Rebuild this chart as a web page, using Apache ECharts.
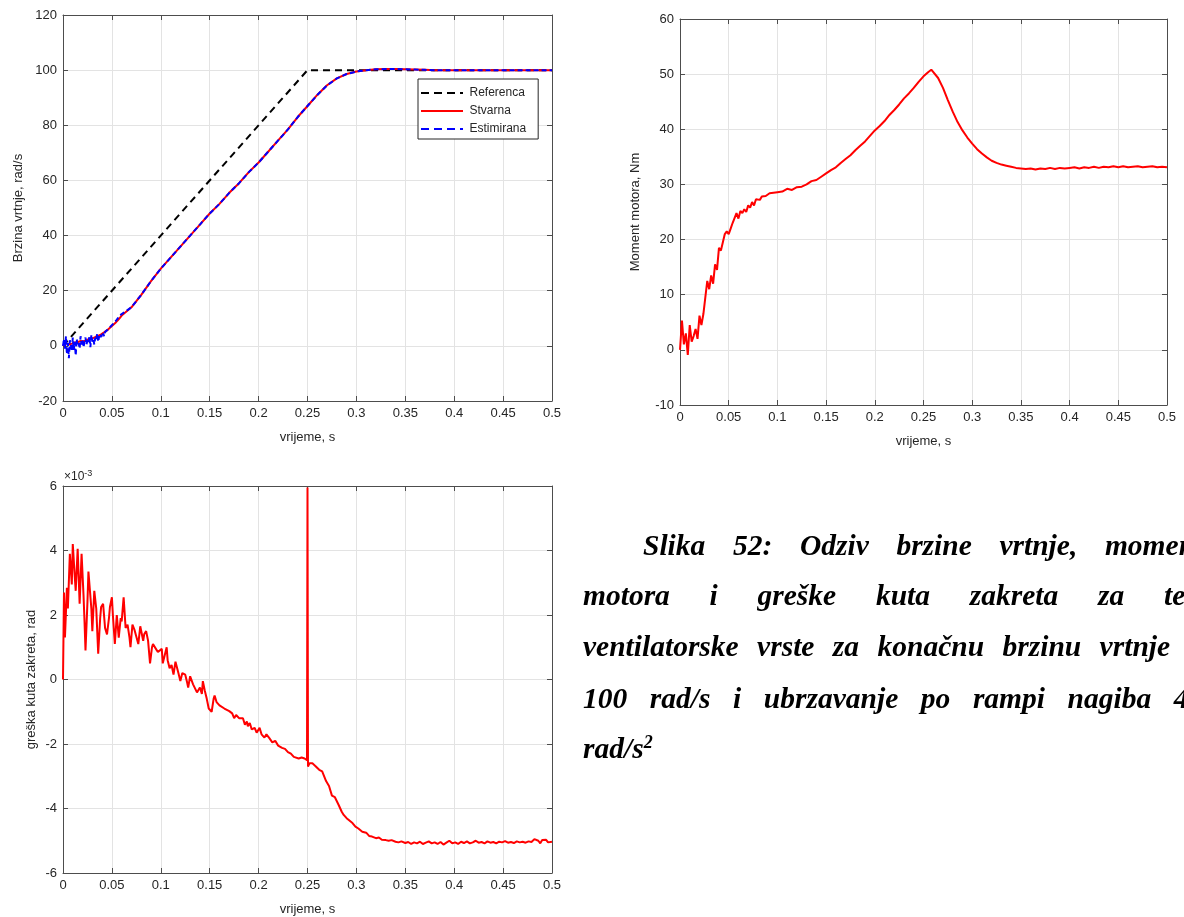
<!DOCTYPE html>
<html>
<head>
<meta charset="utf-8">
<script src="https://cdn.jsdelivr.net/npm/echarts@6.0.0/dist/echarts.min.js"></script>
<style>
    html, body {margin: 0; padding: 0; background: #fff;}
    #main {width: 1184px; height: 917px;}
</style>
</head>
<body>
<div id="main"></div>
<script>
// brzina vrtnje (rad/s)
var speedT = [0, 0.001, 0.002, 0.003, 0.004, 0.005, 0.006, 0.007, 0.008, 0.009, 0.010, 0.011, 0.012, 0.013, 0.014,
    0.015, 0.016, 0.017, 0.018, 0.019, 0.020, 0.021, 0.022, 0.023, 0.024, 0.025, 0.026, 0.027, 0.028, 0.029,
    0.030, 0.031, 0.032, 0.033, 0.034, 0.035, 0.036, 0.037, 0.038, 0.039, 0.040, 0.041, 0.042, 0.043, 0.044,
    0.046, 0.048, 0.050, 0.052, 0.054, 0.056, 0.058, 0.060,
    0.07, 0.08, 0.09, 0.10, 0.11, 0.12, 0.13, 0.14, 0.15, 0.16, 0.17, 0.18, 0.19, 0.20, 0.21, 0.22, 0.23, 0.24,
    0.25, 0.26, 0.27, 0.28, 0.29, 0.30, 0.31, 0.32, 0.33, 0.34, 0.35, 0.36, 0.37, 0.38, 0.40, 0.45, 0.50];
var speedReal = [0, 0.5, 0.5, 1, 0.5, 1, 0.5, 1, 1, 0.8, 1.2, 1, 1.2, 1, 1.5,
    1.3, 1.5, 1.4, 1.8, 1.6, 1.8, 1.7, 2, 2.2, 2, 2.3, 2.2, 2.6, 2.4, 2.8,
    2.7, 3, 3, 3.2, 3.3, 3.6, 3.6, 3.9, 4, 4.2, 4.4, 4.6, 4.9, 5.1, 5.4,
    5.9, 6.5, 7.2, 7.8, 8.5, 9.3, 10.1, 11,
    14, 18.5, 23.5, 28, 32, 36, 40, 44, 48, 51.5, 55.5, 59, 63, 66.5, 70.5, 74.5, 78.5, 83,
    87, 91, 94.5, 97, 98.6, 99.5, 100, 100.3, 100.4, 100.4, 100.3, 100.2, 100.1, 100, 100, 100, 100];
var speedEst = [0, 2.5, -1, 3.5, -3, 1, -4.5, 2, 0.5, -2, 3, -1.5, 1.5, -3.5, 2.5,
    0, 1, -1, 3.5, 0.5, 2, -0.5, 1.5, 3, 0.5, 2, 1, 3.5, -0.5, 4,
    1.5, 2.5, 0.5, 3, 2, 4.5, 1.5, 3.5, 2.5, 4, 3, 4.5, 3.5, 5, 4.5,
    6, 6.5, 7.5, 8, 9, 9.5, 11, 10.5,
    14, 18.5, 23.5, 28, 32, 36, 40, 44, 48, 51.5, 55.5, 59, 63, 66.5, 70.5, 74.5, 78.5, 83,
    87, 91, 94.5, 97, 98.6, 99.5, 100, 100.3, 100.4, 100.4, 100.3, 100.2, 100.1, 100, 100, 100, 100];
var refT = [0, 0.25, 0.5];
var refV = [0, 100, 100];

// moment motora (Nm)
var torqueT = [0, 0.002, 0.004, 0.006, 0.008, 0.010, 0.012, 0.014, 0.016, 0.018, 0.020, 0.022, 0.024, 0.026, 0.028, 0.030,
    0.032, 0.034, 0.036, 0.038, 0.040, 0.042, 0.044, 0.046, 0.048, 0.050, 0.052, 0.054, 0.056, 0.058, 0.060,
    0.062, 0.064, 0.066, 0.068, 0.070, 0.072, 0.074, 0.076, 0.078, 0.080, 0.082, 0.084, 0.086, 0.088, 0.090,
    0.092, 0.094, 0.096, 0.098, 0.100, 0.105, 0.110, 0.115, 0.120, 0.125, 0.130, 0.135, 0.140, 0.145, 0.150,
    0.155, 0.160, 0.165, 0.170, 0.175, 0.180, 0.185, 0.190, 0.195, 0.200, 0.205, 0.210, 0.215, 0.220, 0.225,
    0.230, 0.235, 0.240, 0.245, 0.250, 0.255, 0.258, 0.260, 0.265, 0.270, 0.275, 0.280, 0.285, 0.290, 0.295,
    0.300, 0.305, 0.310, 0.315, 0.320, 0.325, 0.330, 0.335, 0.340, 0.345, 0.350, 0.355, 0.360, 0.365, 0.370,
    0.375, 0.380, 0.385, 0.390, 0.395, 0.400, 0.405, 0.410, 0.415, 0.420, 0.425, 0.430, 0.435, 0.440, 0.445,
    0.450, 0.455, 0.460, 0.465, 0.470, 0.475, 0.480, 0.485, 0.490, 0.495, 0.500];
var torqueV = [0, 5.3, 1, 3, -0.9, 4.5, 1.5, 2.5, 3.8, 2, 6.2, 4.5, 6.5, 9.5, 12.5, 11,
    13.5, 12, 15.5, 14.5, 18.5, 18, 19.5, 21, 21.5, 21, 22, 23, 22.8, 24.8, 23.8,
    25.2, 24.8, 25.5, 25, 26.2, 25.8, 26.8, 26.2, 27.3, 27.5, 27.2, 27.8, 27.5, 27.9, 27.6,
    28.4, 28.1, 28.5, 28.2, 28.6, 28.7, 29.2, 29.0, 29.5, 29.6, 30.0, 30.6, 30.8, 31.4, 32.0,
    32.6, 33.1, 33.9, 34.6, 35.3, 36.2, 37.0, 37.8, 38.8, 39.8, 40.6, 41.5, 42.6, 43.5, 44.5,
    45.6, 46.5, 47.5, 48.6, 49.6, 50.4, 50.8, 50.5, 49.3, 47.5, 45.3, 43.2, 41.3, 39.8, 38.5,
    37.4, 36.4, 35.6, 34.9, 34.3, 33.9, 33.6, 33.4, 33.2, 33.0, 32.9, 32.8, 32.9, 32.7, 32.9,
    32.8, 33.0, 32.8, 33.0, 32.9, 33.0, 33.1, 32.9, 33.1, 33.0, 33.2, 33.0, 33.2, 33.1, 33.3,
    33.1, 33.3, 33.1, 33.2, 33.3, 33.1, 33.2, 33.3, 33.1, 33.2, 33.1];

// greska kuta zakreta (x10^-3 rad)
var errT = [0, 0.001, 0.002, 0.004, 0.005, 0.007, 0.009, 0.010, 0.012, 0.013, 0.015, 0.017, 0.019, 0.021, 0.022, 0.023,
    0.025, 0.026, 0.027, 0.029, 0.030, 0.032, 0.034, 0.036, 0.038, 0.039, 0.041, 0.043, 0.045, 0.047, 0.048,
    0.050, 0.051, 0.053, 0.055, 0.057, 0.059, 0.060, 0.062, 0.064, 0.066, 0.068, 0.069, 0.071, 0.073, 0.075,
    0.077, 0.079, 0.080, 0.082, 0.083, 0.085, 0.087, 0.089, 0.091, 0.092, 0.094, 0.095, 0.097, 0.099, 0.101,
    0.102, 0.104, 0.106, 0.107, 0.109, 0.111, 0.113, 0.115, 0.116, 0.118, 0.120, 0.122, 0.125, 0.127, 0.128,
    0.130, 0.131, 0.133, 0.135, 0.137, 0.140, 0.142, 0.143, 0.145, 0.147, 0.149, 0.152, 0.154, 0.155, 0.157,
    0.160, 0.162, 0.165, 0.167, 0.170, 0.173, 0.175, 0.177, 0.180, 0.182, 0.184, 0.186, 0.188, 0.189, 0.191,
    0.193, 0.196, 0.198, 0.201, 0.203, 0.206, 0.208, 0.211, 0.214, 0.217, 0.220, 0.224, 0.227, 0.230, 0.233,
    0.236, 0.238, 0.241, 0.244, 0.247, 0.2495, 0.250, 0.2505, 0.252, 0.255, 0.258, 0.262, 0.265, 0.269, 0.272,
    0.275, 0.278, 0.282, 0.285, 0.287, 0.290, 0.292, 0.296, 0.299, 0.302, 0.306, 0.310, 0.313, 0.316, 0.320,
    0.323, 0.326, 0.330, 0.333, 0.336, 0.340, 0.343, 0.346, 0.350, 0.353, 0.356, 0.359, 0.362, 0.365, 0.368,
    0.371, 0.374, 0.377, 0.380, 0.383, 0.386, 0.389, 0.392, 0.395, 0.398, 0.401, 0.404, 0.407, 0.410, 0.413,
    0.416, 0.419, 0.422, 0.425, 0.428, 0.431, 0.434, 0.437, 0.440, 0.443, 0.446, 0.449, 0.452, 0.455, 0.458,
    0.461, 0.464, 0.467, 0.470, 0.473, 0.476, 0.479, 0.482, 0.484, 0.486, 0.488, 0.490, 0.492, 0.494, 0.496,
    0.498, 0.500];
var errV = [0, 2.7, 1.3, 2.84, 2.2, 3.9, 2.95, 4.2, 3.2, 2.75, 4.05, 2.35, 3.9, 2.6, 1.8, 0.9,
    2.4, 3.35, 3.4, 2.2, 1.5, 2.75, 2.2, 0.8, 1.9, 2.25, 2.35, 1.6, 1.4, 1.9, 2.25,
    2.55, 2.0, 1.1, 2.0, 1.3, 1.9, 1.8, 2.55, 1.6, 1.7, 1.3, 1.0, 1.7, 1.55, 1.5,
    1.1, 1.65, 1.6, 1.2, 1.4, 1.5, 1.2, 0.5, 1.0, 1.1, 1.05, 0.95, 0.85, 0.8, 0.95,
    0.5, 0.75, 1.0, 0.6, 0.35, 0.45, 0.15, 0.55, 0.5, 0.2, -0.05, 0.2, 0.15, -0.1, -0.25,
    0.1, 0.05, -0.15, -0.15, -0.4, -0.25, -0.45, -0.05, -0.35, -0.6, -0.9, -1.0, -0.6, -0.5, -0.7,
    -0.8, -0.75, -0.9, -0.85, -0.98, -1.05, -1.2, -1.1, -1.2, -1.25, -1.2, -1.4, -1.3, -1.45, -1.35,
    -1.55, -1.5, -1.65, -1.5, -1.7, -1.8, -1.7, -1.82, -1.95, -1.9, -2.05, -2.12, -2.15, -2.25, -2.3,
    -2.4, -2.38, -2.45, -2.42, -2.45, -2.5, 5.95, -2.7, -2.6, -2.6, -2.68, -2.8, -2.85, -3.15, -3.3,
    -3.6, -3.65, -3.9, -4.1, -4.2, -4.3, -4.35, -4.45, -4.56, -4.62, -4.72, -4.75, -4.85, -4.87, -4.92,
    -4.9, -4.97, -4.98, -5.0, -4.98, -5.03, -5.05, -5.02, -5.07, -5.04, -5.1, -5.05, -5.08, -5.03, -5.1,
    -5.06, -5.02, -5.08, -5.05, -5.1, -5.04, -5.12, -5.06, -5.0, -5.08, -5.05, -5.1, -5.03, -5.07, -5.02,
    -5.08, -5.05, -5.0, -5.06, -5.04, -5.08, -5.02, -5.06, -5.04, -5.08, -5.03, -5.05, -5.01, -5.06, -5.04,
    -5.07, -5.02, -5.05, -5.03, -5.06, -5.02, -5.04, -4.95, -4.92, -5.0, -5.08, -4.98, -5.04, -4.97, -5.05,
    -4.99, -5.03];

// tekst opisa slike, po recima
var captionLines = [
    'Slika 52: Odziv brzine vrtnje, momenta',
    'motora i greške kuta zakreta za teret',
    'ventilatorske vrste za konačnu brzinu vrtnje od',
    '100 rad/s i ubrzavanje po rampi nagiba 400'
];

function pairs(t, v) {
    var out = [];
    for (var i = 0; i < t.length; i = i + 1) {
        out.push([t[i], v[i]]);
    }
    return out;
}

var axisColor = '#4d4d4d';
var textColor = '#262626';
var fontName = '"Liberation Sans", Arial, sans-serif';

// donja i gornja x os jednog grafa
function xAxes(grid, name) {
    return [{
        type: 'value', gridIndex: grid, position: 'bottom',
        min: 0, max: 0.5, interval: 0.05,
        name: name, nameLocation: 'middle', nameGap: 30,
        nameTextStyle: {color: textColor, fontSize: 13, fontFamily: fontName},
        axisLine: {show: true, onZero: false, lineStyle: {color: axisColor, width: 1}},
        axisTick: {show: true, inside: true, length: 5, lineStyle: {color: axisColor}},
        axisLabel: {color: textColor, fontSize: 13, fontFamily: fontName, margin: 6,
            formatter: function (v) { return String(+v.toFixed(2)); }},
        splitLine: {show: true, lineStyle: {color: '#e3e3e3', width: 1}}
    }, {
        type: 'value', gridIndex: grid, position: 'top',
        min: 0, max: 0.5, interval: 0.05,
        axisLine: {show: true, onZero: false, lineStyle: {color: axisColor, width: 1}},
        axisTick: {show: true, inside: true, length: 5, lineStyle: {color: axisColor}},
        axisLabel: {show: false},
        splitLine: {show: false}
    }];
}

// lijeva i desna y os jednog grafa
function yAxes(grid, name, min, max, interval, gap) {
    return [{
        type: 'value', gridIndex: grid, position: 'left',
        min: min, max: max, interval: interval,
        name: name, nameLocation: 'middle', nameGap: gap,
        nameTextStyle: {color: textColor, fontSize: 13, fontFamily: fontName},
        axisLine: {show: true, onZero: false, lineStyle: {color: axisColor, width: 1}},
        axisTick: {show: true, inside: true, length: 5, lineStyle: {color: axisColor}},
        axisLabel: {color: textColor, fontSize: 13, fontFamily: fontName, margin: 6},
        splitLine: {show: true, lineStyle: {color: '#e3e3e3', width: 1}}
    }, {
        type: 'value', gridIndex: grid, position: 'right',
        min: min, max: max, interval: interval,
        axisLine: {show: true, onZero: false, lineStyle: {color: axisColor, width: 1}},
        axisTick: {show: true, inside: true, length: 5, lineStyle: {color: axisColor}},
        axisLabel: {show: false},
        splitLine: {show: false}
    }];
}

// poravnanje teksta na obje strane (desni rub je izvan slike)
var captionFont = 'italic bold 29.5px "Liberation Serif", "Times New Roman", serif';
var measureCtx = document.createElement('canvas').getContext('2d');
measureCtx.font = captionFont;
function justifiedLine(text, x0, x1, y) {
    var words = text.split(' ');
    var widths = words.map(function (w) { return measureCtx.measureText(w).width; });
    var total = widths.reduce(function (a, b) { return a + b; }, 0);
    var gap = (x1 - x0 - total) / (words.length - 1);
    var out = [];
    var x = x0;
    for (var i = 0; i < words.length; i = i + 1) {
        out.push({type: 'text', x: x, y: y, silent: true,
            style: {text: words[i], font: captionFont, fill: '#000', verticalAlign: 'middle'}});
        x += widths[i] + gap;
    }
    return out;
}

// ikone legende: isprekidana i puna linija
var dashIcon = 'path://M0,0h8v2h-8z M13,0h8v2h-8z M26,0h8v2h-8z M39,0h3v2h-3z';
var solidIcon = 'path://M0,0h42v2h-42z';

var captionGraphic = [].concat(
    justifiedLine(captionLines[0], 643, 1218, 547),
    justifiedLine(captionLines[1], 583, 1218, 597),
    justifiedLine(captionLines[2], 583, 1218, 648),
    justifiedLine(captionLines[3], 583, 1218, 700),
    [{
        type: 'text', x: 583, y: 750, silent: true,
        style: {
            text: 'rad/s{s|2}', font: captionFont, fill: '#000', verticalAlign: 'middle',
            rich: {s: {font: 'italic bold 18px "Liberation Serif", serif', verticalAlign: 'top', padding: [0, 0, 14, 0]}}
        }
    }]
);

var chart = echarts.init(document.getElementById('main'), null, {renderer: 'canvas'});
chart.setOption(option = {
    animation: false,
    backgroundColor: '#fff',
    grid: [
        {left: 63, top: 15, width: 489, height: 386},
        {left: 680, top: 19, width: 487, height: 386},
        {left: 63, top: 486, width: 489, height: 387}
    ],
    xAxis: [].concat(xAxes(0, 'vrijeme, s'), xAxes(1, 'vrijeme, s'), xAxes(2, 'vrijeme, s')),
    yAxis: [].concat(
        yAxes(0, 'Brzina vrtnje, rad/s', -20, 120, 20, 38),
        yAxes(1, 'Moment motora, Nm', -10, 60, 10, 38),
        yAxes(2, 'greška kuta zakreta, rad', -6, 6, 2, 25)
    ),
    legend: {
        left: 418, top: 79,
        orient: 'vertical',
        padding: [8, 12, 4, 3],
        itemGap: 6,
        itemWidth: 45, itemHeight: 2,
        backgroundColor: '#fff',
        borderColor: '#262626', borderWidth: 1, borderRadius: 0,
        textStyle: {color: textColor, fontSize: 12, fontFamily: fontName},
        data: [
            {name: 'Referenca', icon: dashIcon, itemStyle: {color: '#000'}},
            {name: 'Stvarna', icon: solidIcon, itemStyle: {color: '#ff0000'}},
            {name: 'Estimirana', icon: dashIcon, itemStyle: {color: '#0000ff'}}
        ]
    },
    series: [
        {
            name: 'Referenca', type: 'line', xAxisIndex: 0, yAxisIndex: 0,
            symbol: 'none', data: pairs(refT, refV),
            lineStyle: {color: '#000', width: 2, type: [7, 5]},
            itemStyle: {color: '#000'}
        },
        {
            name: 'Stvarna', type: 'line', xAxisIndex: 0, yAxisIndex: 0,
            symbol: 'none', data: pairs(speedT, speedReal),
            lineStyle: {color: '#ff0000', width: 2},
            itemStyle: {color: '#ff0000'}
        },
        {
            name: 'Estimirana', type: 'line', xAxisIndex: 0, yAxisIndex: 0,
            symbol: 'none', data: pairs(speedT, speedEst),
            lineStyle: {color: '#0000ff', width: 2, type: [5, 3]},
            itemStyle: {color: '#0000ff'}
        },
        {
            name: 'Moment', type: 'line', xAxisIndex: 2, yAxisIndex: 2,
            symbol: 'none', data: pairs(torqueT, torqueV),
            lineStyle: {color: '#ff0000', width: 2},
            itemStyle: {color: '#ff0000'}
        },
        {
            name: 'Greska', type: 'line', xAxisIndex: 4, yAxisIndex: 4,
            symbol: 'none', data: pairs(errT, errV),
            lineStyle: {color: '#ff0000', width: 2},
            itemStyle: {color: '#ff0000'}
        }
    ],
    graphic: [
        {
            type: 'text', x: 64, y: 469, silent: true,
            style: {
                text: '×10{s|-3}', font: '12px ' + fontName, fill: textColor,
                rich: {s: {fontSize: 9, fontFamily: fontName, color: textColor, verticalAlign: 'top', padding: [0, 0, 6, 0]}}
            }
        }
    ].concat(captionGraphic)
});
</script>
</body>
</html>
